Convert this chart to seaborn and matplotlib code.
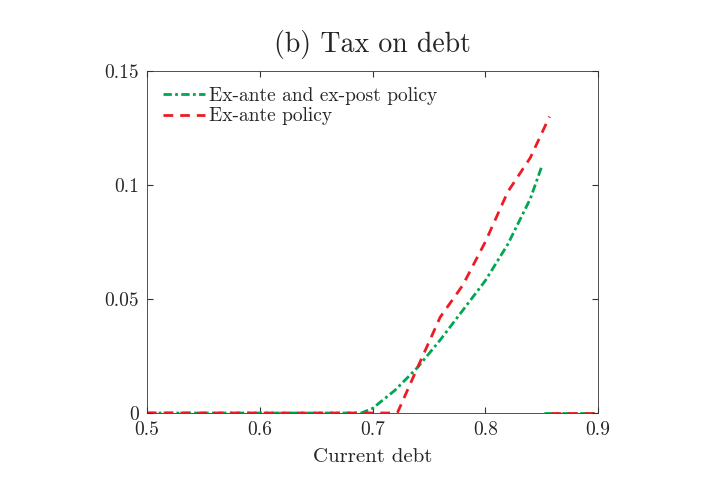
import numpy as np
import matplotlib
matplotlib.use("Agg")
import matplotlib.pyplot as plt
import seaborn as sns

x_green = [0.5, 0.6, 0.69, 0.70, 0.72, 0.74, 0.76, 0.78, 0.80, 0.82, 0.84, 0.85]
y_green = [0, 0, 0, 0.002, 0.010, 0.020, 0.032, 0.045, 0.058, 0.074, 0.094, 0.108]
x_green_tail = [0.852, 0.9]
y_green_tail = [0, 0]
x_red = [0.5, 0.6, 0.722, 0.74, 0.76, 0.78, 0.80, 0.82, 0.84, 0.857]
y_red = [0, 0, 0, 0.020, 0.042, 0.056, 0.075, 0.097, 0.112, 0.130]
x_red_tail = [0.858, 0.9]
y_red_tail = [0, 0]
xticks = [0.5, 0.6, 0.7, 0.8, 0.9]
yticks = [0, 0.05, 0.1, 0.15]
yticklabels = ["0", "0.05", "0.1", "0.15"]
xticklabels = ["0.5", "0.6", "0.7", "0.8", "0.9"]

sns.set_style("ticks")
plt.rcParams['font.family'] = ['cmr10', 'DejaVu Serif']
plt.rcParams['mathtext.fontset'] = 'cm'
plt.rcParams['axes.unicode_minus'] = False

green, red = "#00a651", "#ed1c24"
gstyle = (0, (3, 1.2, 1, 1.2))
rstyle = (0, (3.5, 2.5))
fig = plt.figure(figsize=(7.15, 4.87), dpi=100)
ax = fig.add_axes([147/715, (487-413)/487, (598-147)/715, (413-71)/487])
sns.lineplot(x=x_green, y=y_green, ax=ax, color=green, lw=2.0, linestyle=gstyle, sort=False,
             label="Ex-ante and ex-post policy")
sns.lineplot(x=x_red, y=y_red, ax=ax, color=red, lw=2.0, linestyle=rstyle, sort=False,
             label="Ex-ante policy")
sns.lineplot(x=x_green_tail, y=y_green_tail, ax=ax, color=green, lw=2.0, linestyle=gstyle, legend=False)
sns.lineplot(x=x_red_tail, y=y_red_tail, ax=ax, color=red, lw=2.0, linestyle=rstyle, legend=False)
ax.set_xlim(0.5, 0.9)
ax.set_ylim(0, 0.15)
ax.set_xticks(xticks)
ax.set_xticklabels(xticklabels)
ax.set_yticks(yticks)
ax.set_yticklabels(yticklabels)
ax.tick_params(direction="in", top=True, right=True, labelsize=14, length=4, color="#333333", pad=6)
for s in ax.spines.values():
    s.set_linewidth(0.6)
    s.set_color("#333333")
ax.set_xlabel("Current debt", fontsize=15, labelpad=6)
ax.set_ylabel("")
ax.set_title("(b) Tax on debt", fontsize=20, pad=14)
ax.legend(loc="upper left", frameon=False, fontsize=14, handlelength=2.2, borderaxespad=0.4,
          handletextpad=0.2, labelspacing=0.15)
fig.savefig("out.png", dpi=100)
